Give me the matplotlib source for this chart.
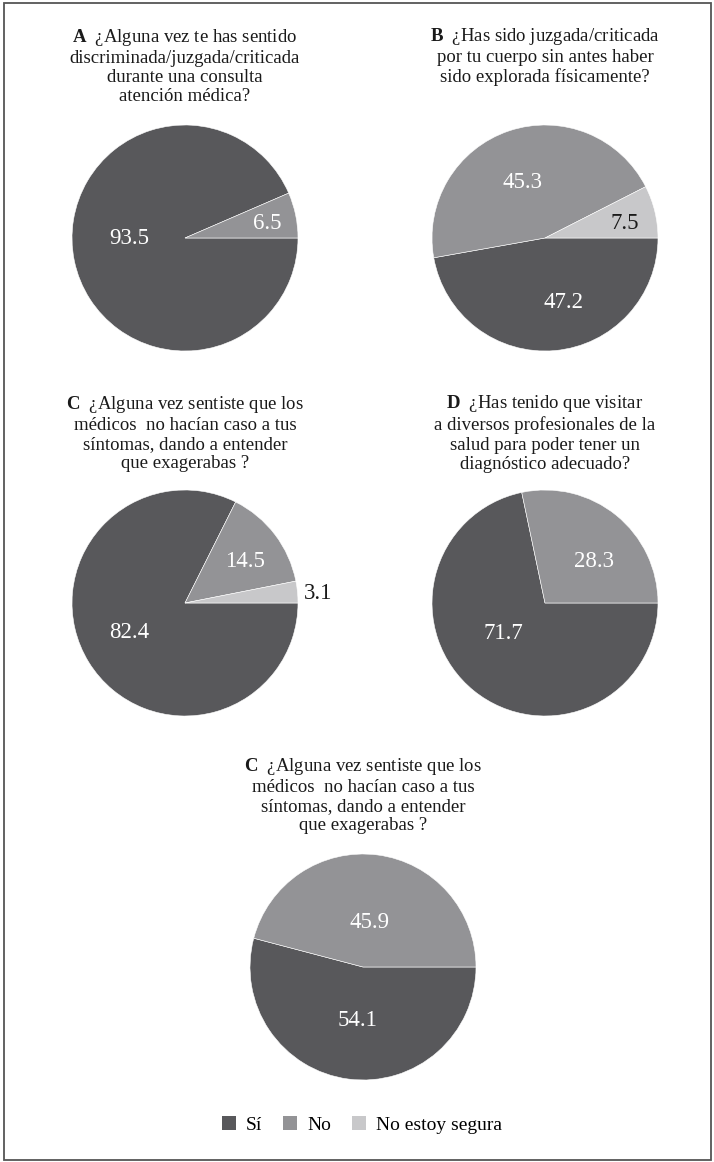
import matplotlib
matplotlib.use('Agg')
import matplotlib.pyplot as plt
from matplotlib.patches import Patch, Rectangle

plt.rcParams['font.family'] = ['Liberation Serif', 'DejaVu Serif']
plt.rcParams['mathtext.fontset'] = 'custom'
plt.rcParams['mathtext.rm'] = 'Liberation Serif'
plt.rcParams['mathtext.bf'] = 'Liberation Serif:bold'

# ── Data ─────────────────────────────────────────────────────────────────────
categories = ['Sí', 'No', 'No estoy segura']
colors = ['#58585b', '#939396', '#c8c8ca']

letters = ['A', 'B', 'C', 'D', 'C']
titles = [
    '¿Alguna vez te has sentido\ndiscriminada/juzgada/criticada\ndurante una consulta\natención médica?',
    '¿Has sido juzgada/criticada\npor tu cuerpo sin antes haber\nsido explorada físicamente?',
    '¿Alguna vez sentiste que los\nmédicos  no hacían caso a tus\nsíntomas, dando a entender\nque exagerabas ?',
    '¿Has tenido que visitar\na diversos profesionales de la\nsalud para poder tener un\ndiagnóstico adecuado?',
    '¿Alguna vez sentiste que los\nmédicos  no hacían caso a tus\nsíntomas, dando a entender\nque exagerabas ?',
]
si_vals = [93.5, 47.2, 82.4, 71.7, 54.1]
no_vals = [6.5, 45.3, 14.5, 28.3, 45.9]
ns_vals = [0.0, 7.5, 3.1, 0.0, 0.0]

# ── Layout (pixels) ─────────────────────────────────────────────────────────
W, H = 714, 1162
R = 113
centers = [(185, 238), (545, 238), (185, 603), (545, 603), (363, 967)]
title_y = [66, 56, 433, 433, 795]
# label offsets in pie-radius units for Sí / No / No estoy segura
label_pos = [
    [(-0.49, 0.0), (0.73, 0.13), None],
    [(0.16, -0.57), (-0.20, 0.49), (0.71, 0.13)],
    [(-0.49, -0.26), (0.53, 0.37), (1.18, 0.08)],
    [(-0.37, -0.27), (0.43, 0.37), None],
    [(-0.05, -0.47), (0.06, 0.39), None],
]
label_col = ['white', 'white', '#1a1a1a']

fig = plt.figure(figsize=(W / 100, H / 100), dpi=100)

for i, (cx, cy) in enumerate(centers):
    ax = fig.add_axes([(cx - R) / W, 1 - (cy + R) / H, 2 * R / W, 2 * R / H])
    vals = [si_vals[i], no_vals[i], ns_vals[i]]
    keep = [k for k, v in enumerate(vals) if v > 0]
    ax.pie([vals[k] for k in keep], colors=[colors[k] for k in keep],
           startangle=0, counterclock=False, radius=1,
           wedgeprops=dict(edgecolor='white', linewidth=0.4))
    ax.set_xlim(-1, 1); ax.set_ylim(-1, 1)
    ax.set_aspect('auto')
    ax.axis('off')
    for k in keep:
        px, py = label_pos[i][k]
        ax.text(px, py, f'{vals[k]:.1f}', ha='center', va='center',
                fontsize=16.5, color=label_col[k], clip_on=False)
    fig.text(cx / W, 1 - title_y[i] / H,
             rf'$\mathbf{{{letters[i]}}}$  ' + titles[i],
             ha='center', va='center', multialignment='center',
             fontsize=13.5, linespacing=1.16, color='#1a1a1a')

handles = [Patch(facecolor=c, edgecolor='none') for c in colors]
fig.legend(handles, categories, loc='center', ncol=3,
           bbox_to_anchor=(362 / W, 1 - 1125 / H), frameon=False,
           fontsize=14, handlelength=0.72, handleheight=0.72,
           handletextpad=0.5, columnspacing=1.1)

fig.patches.append(Rectangle((4 / W, 2 / H), (W - 7) / W, (H - 5) / H,
                             transform=fig.transFigure, fill=False,
                             edgecolor='#555555', linewidth=1.3))

fig.savefig('out.png', dpi=100, facecolor='white')
